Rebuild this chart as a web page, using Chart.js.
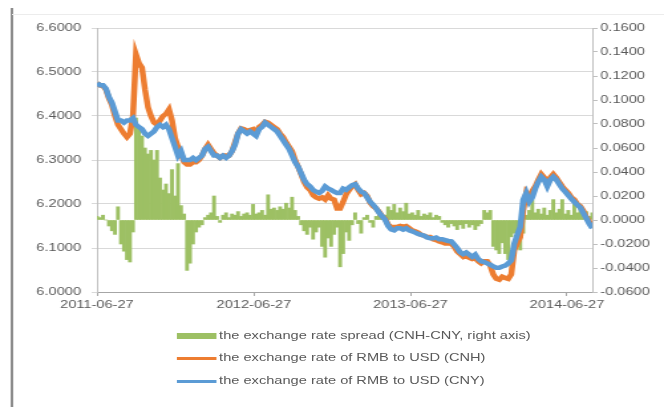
<!DOCTYPE html>
<html>
<head>
<meta charset="utf-8">
<script src="https://cdn.jsdelivr.net/npm/chart.js@4.4.1/dist/chart.umd.min.js"></script>
<style>
  html, body { margin: 0; padding: 0; background: #fff; }
  body { width: 664px; height: 407px; overflow: hidden; position: relative; }
  #wrap { position: absolute; left: 0; top: 0; width: 500px; height: 407px; transform: scaleX(1.328); transform-origin: 0 0; }
  #c { position: absolute; left: 0; top: 0; }
  .leftline { position: absolute; left: 8.3px; top: 8px; width: 1.6px; height: 399px; background: #8c8c8c; }
  .topline { position: absolute; left: 9px; top: 14px; width: 491px; height: 1px; background: #ececec; }
  .lg { position: absolute; left: 133px; font: 11px "Liberation Sans", Arial, sans-serif; color: #595959; white-space: nowrap; }
  .sw { position: absolute; left: 0; width: 30px; }
  .tx { position: absolute; left: 32px; top: -7px; }
</style>
</head>
<body>
<div id="wrap">
  <div class="leftline"></div>
  <div class="topline"></div>
  <canvas id="c" width="500" height="407"></canvas>
  <div class="lg" style="top:336px"><div class="sw" style="top:-3px;height:6px;background:#9dc064"></div><div class="tx">the exchange rate spread (CNH-CNY, right axis)</div></div>
  <div class="lg" style="top:358px"><div class="sw" style="top:-1.5px;height:3px;background:#ed7d31"></div><div class="tx">the exchange rate of RMB to USD (CNH)</div></div>
  <div class="lg" style="top:381px"><div class="sw" style="top:-1.5px;height:3px;background:#5b9bd5"></div><div class="tx">the exchange rate of RMB to USD (CNY)</div></div>
</div>
<script>
// weekly observations starting 2011-06-27
const startDate = '2011-06-27';
const stepDays = 7;

const tickLabels = ['2011-06-27', '2012-06-27', '2013-06-27', '2014-06-27'];
const tickDays = [0, 366, 731, 1096];

const seriesNames = [
  'the exchange rate spread (CNH-CNY, right axis)',
  'the exchange rate of RMB to USD (CNH)',
  'the exchange rate of RMB to USD (CNY)'
];

const cny = [
  6.475, 6.47, 6.47, 6.462, 6.443, 6.43, 6.41, 6.39, 6.39, 6.385,
  6.39, 6.39, 6.395, 6.38, 6.375, 6.37, 6.36, 6.355, 6.36, 6.365,
  6.375, 6.38, 6.375, 6.38, 6.37, 6.35, 6.33, 6.31, 6.32, 6.30,
  6.30, 6.30, 6.305, 6.30, 6.305, 6.31, 6.325, 6.33, 6.32, 6.31,
  6.31, 6.305, 6.31, 6.305, 6.31, 6.32, 6.335, 6.36, 6.37, 6.365,
  6.36, 6.365, 6.36, 6.355, 6.37, 6.375, 6.385, 6.38, 6.375, 6.37,
  6.365, 6.355, 6.345, 6.335, 6.325, 6.31, 6.295, 6.285, 6.27, 6.255,
  6.245, 6.24, 6.232, 6.228, 6.225, 6.23, 6.24, 6.235, 6.232, 6.228,
  6.225, 6.225, 6.235, 6.232, 6.238, 6.243, 6.245, 6.235, 6.228, 6.225,
  6.215, 6.205, 6.198, 6.19, 6.18, 6.172, 6.164, 6.15, 6.142, 6.14,
  6.145, 6.145, 6.142, 6.145, 6.14, 6.138, 6.135, 6.132, 6.13, 6.128,
  6.124, 6.122, 6.122, 6.124, 6.12, 6.12, 6.118, 6.116, 6.115, 6.108,
  6.10, 6.09, 6.086, 6.09, 6.085, 6.08, 6.085, 6.075, 6.07, 6.068,
  6.065, 6.062, 6.058, 6.055, 6.055, 6.058, 6.06, 6.065, 6.072, 6.11,
  6.13, 6.148, 6.21, 6.225, 6.205, 6.215, 6.235, 6.25, 6.262, 6.255,
  6.24, 6.255, 6.262, 6.255, 6.245, 6.235, 6.228, 6.22, 6.212, 6.205,
  6.198, 6.192, 6.18, 6.168, 6.155, 6.145
];

const cnh = [
  6.475, 6.47, 6.468, 6.46, 6.44, 6.425, 6.40, 6.38, 6.37, 6.36,
  6.352, 6.36, 6.40, 6.54, 6.52, 6.51, 6.46, 6.42, 6.40, 6.385,
  6.38, 6.39, 6.40, 6.405, 6.415, 6.39, 6.35, 6.33, 6.315, 6.295,
  6.29, 6.29, 6.295, 6.295, 6.30, 6.31, 6.325, 6.335, 6.325, 6.315,
  6.31, 6.305, 6.31, 6.31, 6.31, 6.32, 6.34, 6.36, 6.372, 6.37,
  6.365, 6.368, 6.37, 6.36, 6.375, 6.38, 6.387, 6.385, 6.38, 6.375,
  6.37, 6.36, 6.352, 6.34, 6.33, 6.32, 6.30, 6.285, 6.268, 6.25,
  6.238, 6.232, 6.22, 6.215, 6.212, 6.215, 6.21, 6.22, 6.212, 6.21,
  6.19, 6.19, 6.205, 6.222, 6.232, 6.24, 6.245, 6.232, 6.222, 6.225,
  6.218, 6.203, 6.195, 6.19, 6.182, 6.172, 6.166, 6.153, 6.147, 6.148,
  6.148, 6.15, 6.148, 6.15, 6.145, 6.14, 6.138, 6.135, 6.13, 6.128,
  6.125, 6.125, 6.12, 6.118, 6.115, 6.113, 6.11, 6.11, 6.11, 6.103,
  6.092, 6.086, 6.08, 6.085, 6.078, 6.075, 6.077, 6.07, 6.065, 6.07,
  6.07, 6.06, 6.04, 6.03, 6.028, 6.035, 6.032, 6.03, 6.04, 6.095,
  6.11, 6.125, 6.186, 6.225, 6.215, 6.23, 6.24, 6.255, 6.268, 6.26,
  6.245, 6.26, 6.268, 6.26, 6.25, 6.24, 6.232, 6.225, 6.215, 6.21,
  6.20, 6.195, 6.185, 6.17, 6.16, 6.15
];

const spread = [
  0.003, 0.002, 0.004, 0.0, -0.005, -0.009, -0.012, 0.011, -0.02, -0.026,
  -0.033, -0.035, -0.01, 0.085, 0.078, 0.07, 0.06, 0.055, 0.058, 0.05,
  0.058, 0.035, 0.025, 0.03, 0.022, 0.042, 0.02, 0.047, 0.012, 0.005,
  -0.042, -0.036, -0.02, -0.01, -0.006, -0.004, 0.002, 0.004, 0.006, 0.02,
  0.003, -0.002, 0.004, 0.006, 0.002, 0.005, 0.004, 0.007, 0.003, 0.005,
  0.006, 0.004, 0.013, 0.005, 0.006, 0.008, 0.004, 0.021, 0.009, 0.01,
  0.008, 0.011, 0.009, 0.014, 0.01, 0.019, 0.008, 0.003, -0.004, -0.009,
  -0.012, -0.006, -0.016, -0.01, -0.006, -0.022, -0.031, -0.015, -0.022, -0.012,
  -0.006, -0.039, -0.028, -0.01, -0.017, -0.004, 0.006, -0.003, -0.011, 0.002,
  0.004, -0.002, -0.006, 0.003, 0.005, 0.002, 0.004, 0.011, 0.008, 0.013,
  0.006, 0.01, 0.007, 0.014, 0.005, 0.006, 0.004, 0.008, 0.003, 0.005,
  0.004, 0.006, 0.002, 0.004, 0.003, -0.002, -0.004, -0.006, -0.003, -0.005,
  -0.008, -0.004, -0.007, -0.003, -0.006, -0.004, -0.008, -0.005, -0.003, 0.008,
  0.006, 0.008, -0.022, -0.025, -0.028, -0.019, -0.028, -0.033, -0.014, -0.011,
  -0.022, -0.025, -0.011, 0.004, 0.008, 0.017, 0.006, 0.009, 0.005, 0.01,
  0.004, 0.008, 0.017, 0.006, 0.009, 0.017, 0.005, 0.008, 0.004, 0.017,
  0.006, 0.009, 0.004, 0.007, 0.003, 0.006
];

const toPoints = arr => arr.map((v, i) => ({ x: i * stepDays, y: v }));
const fmt4 = v => (Math.abs(v) < 1e-9 ? 0 : v).toFixed(4);
const tickFont = { family: '"Liberation Sans", Arial, sans-serif', size: 11 };

new Chart(document.getElementById('c'), {
  type: 'line',
  data: {
    datasets: [
      {
        type: 'bar', label: seriesNames[0], data: toPoints(spread), yAxisID: 'y1',
        backgroundColor: '#9dc064', borderWidth: 0, barPercentage: 1.0, categoryPercentage: 1.0, order: 3
      },
      {
        label: seriesNames[1], data: toPoints(cnh), yAxisID: 'y',
        borderColor: '#ed7d31', borderWidth: 4.5, pointRadius: 0, tension: 0, order: 2
      },
      {
        label: seriesNames[2], data: toPoints(cny), yAxisID: 'y',
        borderColor: '#5b9bd5', borderWidth: 4.5, pointRadius: 0, tension: 0, order: 1
      }
    ]
  },
  options: {
    responsive: false,
    devicePixelRatio: 1,
    animation: false,
    layout: { padding: { top: 28, bottom: 95, left: 0, right: 0 } },
    plugins: { legend: { display: false }, tooltip: { enabled: false } },
    scales: {
      x: {
        type: 'linear', position: 'bottom', min: 0, max: (cny.length - 1) * stepDays,
        offset: false,
        afterBuildTicks: s => { s.ticks = tickDays.map(v => ({ value: v })); },
        afterFit: s => { s.height = 20; },
        ticks: {
          autoSkip: false, maxRotation: 0, color: '#595959', font: tickFont, padding: 2,
          callback: v => tickLabels[tickDays.indexOf(v)]
        },
        grid: { drawOnChartArea: false, tickLength: 4, color: '#a6a6a6', offset: false },
        border: { color: '#a6a6a6' }
      },
      y: {
        position: 'left', min: 6.0, max: 6.6,
        afterFit: s => { s.width = 73; },
        ticks: { stepSize: 0.1, color: '#595959', font: tickFont, padding: 8, callback: v => fmt4(v) },
        grid: { color: '#d9d9d9', tickLength: 4 },
        border: { color: '#bfbfbf' }
      },
      y1: {
        position: 'right', min: -0.06, max: 0.16,
        afterFit: s => { s.width = 54; },
        ticks: { stepSize: 0.02, color: '#595959', font: tickFont, padding: 2, callback: v => fmt4(v) },
        grid: { drawOnChartArea: false, tickLength: 4, color: '#bfbfbf' },
        border: { color: '#bfbfbf' }
      }
    }
  }
});
</script>
</body>
</html>
